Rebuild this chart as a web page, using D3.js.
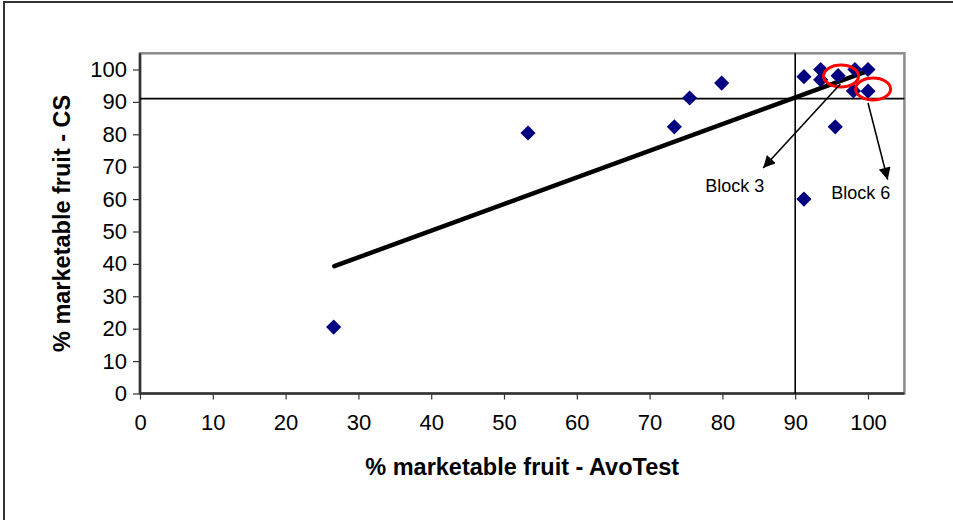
<!DOCTYPE html>
<html>
<head>
<meta charset="utf-8">
<script src="https://cdn.jsdelivr.net/npm/d3@7"></script>
<style>
  html, body { margin: 0; padding: 0; background: #fff; }
  svg { display: block; font-family: Arial, "Liberation Sans", sans-serif; }
</style>
</head>
<body>
<svg id="chart" width="953" height="520"></svg>
<script>
// ---- data ----
const avoTest = [26.6, 53.3, 73.4, 75.5, 79.9, 91.2, 91.2, 93.5, 93.5, 95.5, 95.9, 98.2, 98.0, 100, 100];
const cs      = [20.5, 80.4, 82.3, 91.2, 95.8, 60.0, 97.8, 100, 96.8, 82.3, 98.1, 100, 93.4, 100, 93.3];
const trendX = [26.7, 100];
const trendY = [39.3, 99.6];
const refX = 90;     // vertical reference line
const refY = 91;     // horizontal reference line
const xTicks = [0, 10, 20, 30, 40, 50, 60, 70, 80, 90, 100];
const yTicks = [0, 10, 20, 30, 40, 50, 60, 70, 80, 90, 100];
const blockLabels = ["Block 3", "Block 6"];
const highlightX = [96.3, 100.7];
const highlightY = [98.0, 94.0];
const arrowFromX = [96.2, 100.0];
const arrowFromY = [95.5, 89.7];
const arrowToX = [85.6, 102.7];
const arrowToY = [69.6, 66.0];
const labelX = [81.7, 99.0];
const labelY = [64.0, 61.9];
const xTitle = "% marketable fruit - AvoTest";
const yTitle = "% marketable fruit - CS";

// ---- layout ----
const svg = d3.select("#chart");
const x = d3.scaleLinear().domain([0, 105]).range([140, 904.4]);
const y = d3.scaleLinear().domain([0, 105]).range([393.5, 53.3]);

// outer chart border (only left/top visible in frame)
svg.append("rect").attr("x", 4).attr("y", 2).attr("width", 1000).attr("height", 700)
  .attr("fill", "none").attr("stroke", "#333").attr("stroke-width", 2);

// plot area border
svg.append("rect")
  .attr("x", x(0)).attr("y", y(105))
  .attr("width", x(105) - x(0)).attr("height", y(0) - y(105))
  .attr("fill", "#fff").attr("stroke", "#8c8c8c").attr("stroke-width", 2.5);

// axes
const xAxis = svg.append("g").attr("transform", `translate(0,${y(0)})`)
  .call(d3.axisBottom(x).tickValues(xTicks).tickSize(6).tickPadding(15).tickFormat(d3.format("d")));
const yAxis = svg.append("g").attr("transform", `translate(${x(0)},0)`)
  .call(d3.axisLeft(y).tickValues(yTicks).tickSize(7).tickPadding(6).tickFormat(d3.format("d")));
[xAxis, yAxis].forEach(g => {
  g.select(".domain").attr("stroke", "#333").attr("stroke-width", 2.5);
  g.selectAll(".tick line").attr("stroke", "#333").attr("stroke-width", 1.2);
  g.selectAll(".tick text").attr("fill", "#000").attr("font-size", 22)
    .attr("font-family", "Arial, 'Liberation Sans', sans-serif");
});
xAxis.select(".domain").attr("d", `M${x(0)},0H${x(105)}`);
yAxis.select(".domain").attr("d", `M0,${y(0)}V${y(105)}`);

// reference lines
svg.append("line").attr("x1", x(refX)).attr("x2", x(refX)).attr("y1", y(105)).attr("y2", y(0))
  .attr("stroke", "#000").attr("stroke-width", 1.6);
svg.append("line").attr("x1", x(0)).attr("x2", x(105)).attr("y1", y(refY)).attr("y2", y(refY))
  .attr("stroke", "#000").attr("stroke-width", 1.6);

// trend line
svg.append("path")
  .datum(d3.zip(trendX, trendY))
  .attr("d", d3.line().x(d => x(d[0])).y(d => y(d[1])))
  .attr("fill", "none").attr("stroke", "#000").attr("stroke-width", 4.5).attr("stroke-linecap", "round");

// points
const diamond = d3.symbol().type(d3.symbolSquare).size(115);
svg.append("g").selectAll("path")
  .data(d3.zip(avoTest, cs))
  .join("path")
  .attr("d", diamond)
  .attr("transform", d => `translate(${x(d[0])},${y(d[1])}) rotate(45)`)
  .attr("fill", "#000080");

// highlight ellipses
svg.append("g").selectAll("ellipse")
  .data(d3.range(blockLabels.length))
  .join("ellipse")
  .attr("cx", i => x(highlightX[i])).attr("cy", i => y(highlightY[i]))
  .attr("rx", 17.5).attr("ry", 11)
  .attr("fill", "none").attr("stroke", "#ff0000").attr("stroke-width", 3);

// arrows
const defs = svg.append("defs");
defs.append("marker").attr("id", "ah")
  .attr("viewBox", "0 0 10 10").attr("refX", 10).attr("refY", 5)
  .attr("markerWidth", 15).attr("markerHeight", 12).attr("markerUnits", "userSpaceOnUse")
  .attr("orient", "auto")
  .append("path").attr("d", "M0,0L10,5L0,10Z").attr("fill", "#000");
svg.append("g").selectAll("line")
  .data(d3.range(blockLabels.length))
  .join("line")
  .attr("x1", i => x(arrowFromX[i])).attr("y1", i => y(arrowFromY[i]))
  .attr("x2", i => x(arrowToX[i])).attr("y2", i => y(arrowToY[i]))
  .attr("stroke", "#000").attr("stroke-width", 1.6)
  .attr("marker-end", "url(#ah)");

// block labels
svg.append("g").selectAll("text")
  .data(d3.range(blockLabels.length))
  .join("text")
  .attr("x", i => x(labelX[i])).attr("y", i => y(labelY[i]))
  .attr("text-anchor", "middle").attr("dominant-baseline", "central")
  .attr("font-size", 18).attr("fill", "#000")
  .text(i => blockLabels[i]);

// axis titles
svg.append("text")
  .attr("x", (x(0) + x(105)) / 2).attr("y", 475)
  .attr("text-anchor", "middle").attr("font-weight", "bold").attr("font-size", 23.5)
  .text(xTitle);
svg.append("text")
  .attr("transform", `translate(70,${(y(0) + y(105)) / 2}) rotate(-90)`)
  .attr("text-anchor", "middle").attr("font-weight", "bold").attr("font-size", 23.5)
  .text(yTitle);
</script>
</body>
</html>
